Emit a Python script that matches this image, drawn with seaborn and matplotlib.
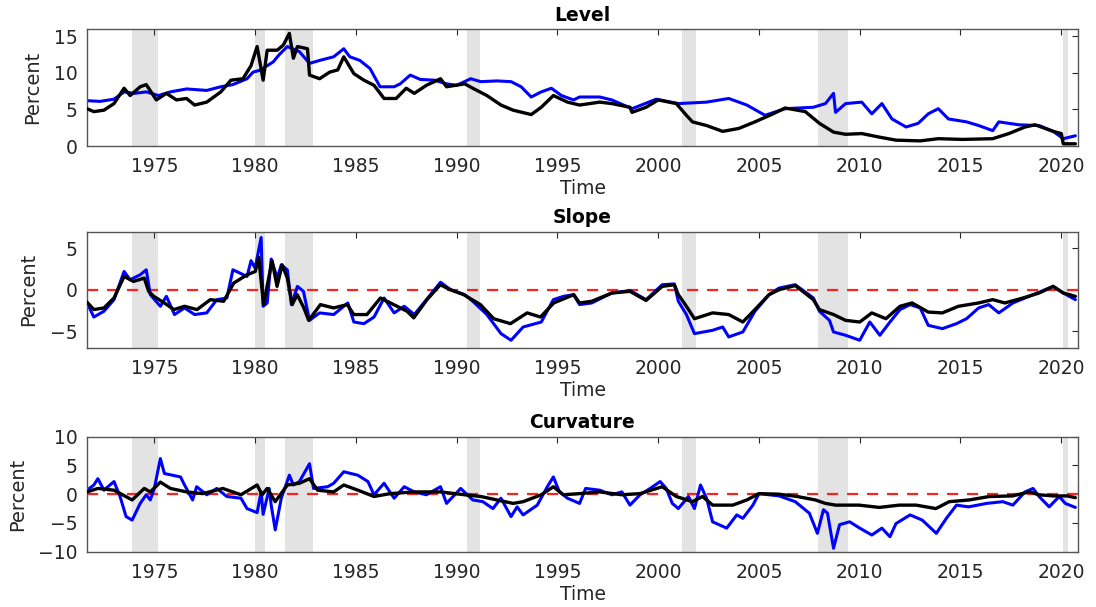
import numpy as np
import pandas as pd
import matplotlib
matplotlib.use("Agg")
import matplotlib.pyplot as plt
import seaborn as sns

# ---------------- data ----------------
level_blue_t = [1971.66, 1972.3, 1973.0, 1973.5, 1974.0, 1974.6, 1975.2, 1975.8, 1976.6, 1977.6, 1978.3, 1978.9,
                1979.6, 1979.9, 1980.3, 1980.5, 1980.9, 1981.2, 1981.6, 1982.2, 1982.7, 1983.2, 1983.9, 1984.4,
                1984.7, 1985.2, 1985.7, 1986.2, 1986.9, 1987.2, 1987.7, 1988.2, 1988.9, 1989.5, 1990.0, 1990.7,
                1991.2, 1992.0, 1992.7, 1993.2, 1993.7, 1994.2, 1994.7, 1995.2, 1995.8, 1996.1, 1997.1, 1997.7,
                1998.7, 1999.9, 2001.0, 2002.4, 2003.5, 2004.4, 2005.3, 2006.3, 2007.7, 2008.3, 2008.7, 2008.8,
                2009.3, 2010.1, 2010.6, 2011.1, 2011.6, 2012.3, 2012.9, 2013.4, 2013.9, 2014.4, 2015.3, 2015.9,
                2016.6, 2016.9, 2017.9, 2018.9, 2019.6, 2020.1, 2020.7]
level_blue = [6.2, 6.1, 6.4, 7.4, 7.2, 7.4, 6.9, 7.4, 7.8, 7.6, 8.1, 8.4,
              9.2, 10.1, 10.4, 10.8, 11.5, 12.5, 13.6, 12.9, 11.3, 11.7, 12.2, 13.3,
              12.2, 11.7, 10.6, 8.1, 8.1, 8.5, 9.7, 9.1, 9.0, 8.5, 8.3, 9.2,
              8.8, 8.9, 8.8, 8.1, 6.7, 7.4, 7.9, 6.9, 6.3, 6.7, 6.7, 6.3,
              5.1, 6.4, 5.8, 6.0, 6.5, 5.6, 4.2, 5.1, 5.3, 5.8, 7.2, 4.6,
              5.8, 6.0, 4.4, 5.8, 3.7, 2.6, 3.1, 4.4, 5.1, 3.7, 3.3, 2.8,
              2.1, 3.3, 2.9, 2.8, 2.0, 1.0, 1.4]

level_black_t = [1971.66, 1972.0, 1972.5, 1973.0, 1973.5, 1973.8, 1974.3, 1974.6, 1975.1, 1975.6, 1976.1, 1976.6,
                 1977.0, 1977.6, 1978.3, 1978.8, 1979.4, 1979.8, 1980.1, 1980.4, 1980.6, 1981.1, 1981.4, 1981.7,
                 1981.9, 1982.1, 1982.6, 1982.7, 1983.2, 1983.7, 1984.1, 1984.4, 1984.9, 1985.4, 1985.9, 1986.4,
                 1987.0, 1987.5, 1987.9, 1988.5, 1989.2, 1989.5, 1990.4, 1990.8, 1991.5, 1992.2, 1992.8, 1993.7,
                 1994.2, 1994.8, 1995.5, 1996.1, 1997.1, 1997.7, 1998.6, 1998.7, 1999.4, 2000.0, 2000.9, 2001.4,
                 2001.7, 2002.4, 2003.2, 2004.0, 2004.8, 2005.7, 2006.3, 2007.3, 2008.0, 2008.7, 2009.3, 2010.1,
                 2011.0, 2011.8, 2013.0, 2013.9, 2015.1, 2016.6, 2017.4, 2018.2, 2018.7, 2019.6, 2020.0, 2020.1,
                 2020.7]
level_black = [5.1, 4.7, 4.9, 5.8, 7.9, 6.9, 8.1, 8.4, 6.3, 7.2, 6.3, 6.5,
               5.6, 6.0, 7.4, 9.0, 9.2, 11.0, 13.6, 9.0, 13.1, 13.1, 13.8, 15.4,
               12.0, 13.6, 13.3, 9.7, 9.2, 10.1, 10.4, 12.2, 9.9, 9.0, 8.3, 6.5,
               6.5, 7.9, 7.2, 8.3, 9.2, 8.1, 8.5, 7.9, 6.9, 5.6, 4.9, 4.3,
               5.3, 6.9, 6.0, 5.6, 6.0, 5.8, 5.3, 4.6, 5.3, 6.3, 5.8, 4.2,
               3.3, 2.8, 2.0, 2.4, 3.3, 4.4, 5.2, 4.7, 3.1, 1.9, 1.6, 1.7,
               1.2, 0.8, 0.7, 1.0, 0.9, 1.0, 1.7, 2.6, 2.9, 2.0, 1.7, 0.3,
               0.3]

slope_blue_t = [1971.66, 1972.0, 1972.5, 1973.0, 1973.5, 1973.8, 1974.3, 1974.6, 1974.8, 1975.3, 1975.6, 1976.0,
                1976.5, 1977.0, 1977.6, 1978.1, 1978.6, 1978.9, 1979.6, 1979.8, 1980.0, 1980.3, 1980.4, 1980.6,
                1980.8, 1981.1, 1981.3, 1981.6, 1981.8, 1982.1, 1982.4, 1982.7, 1983.2, 1983.9, 1984.6, 1984.9,
                1985.4, 1985.9, 1986.4, 1986.9, 1987.4, 1987.9, 1988.5, 1989.2, 1989.7, 1990.4, 1990.8, 1991.5,
                1992.2, 1992.7, 1993.3, 1994.2, 1994.8, 1995.3, 1995.8, 1996.1, 1996.7, 1997.7, 1998.6, 1999.4,
                2000.2, 2000.8, 2001.0, 2001.4, 2001.8, 2002.7, 2003.2, 2003.5, 2004.2, 2004.8, 2005.5, 2006.0,
                2006.8, 2007.7, 2008.0, 2008.5, 2008.7, 2009.3, 2010.0, 2010.5, 2011.0, 2011.5, 2012.0, 2012.5,
                2013.0, 2013.4, 2014.1, 2014.8, 2015.3, 2015.9, 2016.4, 2016.9, 2017.6, 2018.4, 2019.2, 2019.6,
                2020.1, 2020.7]
slope_blue = [-1.6, -3.3, -2.6, -1.2, 2.2, 1.2, 1.8, 2.4, -0.6, -2.0, -0.8, -3.0,
              -2.2, -3.0, -2.8, -1.2, -1.0, 2.4, 1.6, 3.5, 2.6, 6.3, -2.0, -1.6,
              3.7, 1.4, 3.0, 2.4, -1.8, 0.4, -0.2, -3.7, -2.8, -3.0, -1.6, -3.9,
              -4.1, -3.3, -1.0, -2.8, -2.0, -3.0, -1.2, 0.9, 0.0, -0.6, -1.4, -3.0,
              -5.3, -6.1, -4.5, -3.9, -1.2, -0.8, -0.6, -1.8, -1.6, -0.4, -0.1, -1.2,
              0.6, 0.7, -1.4, -3.0, -5.3, -4.9, -4.5, -5.7, -5.1, -2.6, -0.6, 0.2,
              0.6, -1.0, -2.6, -3.7, -5.1, -5.5, -6.1, -3.9, -5.5, -3.9, -2.4, -1.8,
              -2.2, -4.3, -4.7, -4.1, -3.5, -2.2, -1.8, -2.8, -1.6, -0.8, 0.0, 0.4,
              -0.4, -1.2]

slope_black_t = [1971.66, 1972.0, 1972.5, 1973.0, 1973.5, 1973.97, 1974.5, 1974.72, 1974.97, 1975.5, 1975.97, 1976.5,
                 1977.12, 1977.78, 1978.44, 1978.94, 1979.6, 1980.01, 1980.18, 1980.42, 1980.84, 1981.09, 1981.34,
                 1981.6, 1981.84, 1982.09, 1982.42, 1982.66, 1983.24, 1983.9, 1984.57, 1984.9, 1985.55, 1986.22,
                 1986.88, 1987.54, 1987.87, 1988.53, 1989.19, 1989.68, 1990.35, 1991.18, 1991.84, 1992.67, 1993.5,
                 1994.16, 1994.82, 1995.81, 1996.1, 1996.7, 1997.7, 1998.6, 1999.4, 2000.2, 2000.8, 2001.0,
                 2001.4, 2001.8, 2002.7, 2003.5, 2004.2, 2004.8, 2005.5, 2006.0, 2006.8, 2007.7, 2008.0, 2008.7,
                 2009.3, 2010.0, 2010.6, 2011.3, 2012.0, 2012.6, 2013.4, 2014.1, 2014.9, 2015.9, 2016.6, 2017.2,
                 2018.1, 2018.9, 2019.6, 2020.1, 2020.7]
slope_black = [-1.5, -2.4, -2.2, -1.0, 1.6, 1.0, 1.4, -0.2, -0.8, -1.6, -2.4, -2.0,
               -2.4, -1.2, -1.4, 0.8, 1.8, 2.2, 3.9, -1.8, 3.5, 0.4, 3.0,
               1.4, -1.8, -0.6, -2.2, -3.7, -1.8, -2.2, -1.8, -3.0, -3.0, -1.0,
               -1.8, -2.6, -3.4, -1.2, 0.6, 0.0, -0.6, -1.8, -3.5, -4.1, -2.8,
               -3.3, -1.6, -0.6, -1.6, -1.4, -0.4, -0.2, -1.3, 0.4, 0.6, -0.6,
               -2.0, -3.5, -2.8, -3.0, -3.9, -2.4, -0.6, 0.0, 0.5, -1.2, -2.4, -3.0,
               -3.7, -3.9, -2.8, -3.5, -2.0, -1.6, -2.7, -2.8, -2.0, -1.6, -1.2, -1.6,
               -1.0, -0.4, 0.4, -0.4, -0.8]

curv_blue_t = [1971.66, 1972.0, 1972.2, 1972.5, 1973.0, 1973.3, 1973.6, 1973.9, 1974.3, 1974.6, 1974.8, 1975.0,
               1975.3, 1975.5, 1976.3, 1976.5, 1976.9, 1977.1, 1977.6, 1978.1, 1978.6, 1979.3, 1979.6, 1980.1,
               1980.3, 1980.4, 1980.7, 1980.8, 1981.0, 1981.3, 1981.7, 1981.9, 1982.2, 1982.7, 1982.9, 1983.6,
               1983.9, 1984.4, 1985.1, 1985.6, 1985.9, 1986.4, 1986.9, 1987.4, 1987.9, 1988.5, 1989.2, 1989.5,
               1990.2, 1990.8, 1991.3, 1991.8, 1992.2, 1992.7, 1993.0, 1993.3, 1994.0, 1994.5, 1994.8, 1995.1,
               1995.5, 1996.1, 1996.4, 1997.1, 1997.7, 1998.2, 1998.6, 1999.1, 1999.6, 2000.1, 2000.4, 2000.7,
               2001.0, 2001.5, 2001.8, 2002.1, 2002.4, 2002.7, 2003.4, 2003.9, 2004.2, 2004.7, 2005.0, 2006.0,
               2006.8, 2007.5, 2007.9, 2008.2, 2008.4, 2008.7, 2009.0, 2009.5, 2010.0, 2010.6, 2011.1, 2011.5,
               2011.8, 2012.5, 2013.1, 2013.8, 2014.3, 2014.8, 2015.4, 2016.3, 2017.1, 2017.6, 2018.2, 2018.6,
               2018.9, 2019.4, 2019.9, 2020.2, 2020.7]
curv_blue = [0.7, 1.6, 2.7, 0.7, 2.2, -0.4, -3.9, -4.5, -1.6, -0.1, -1.0, 1.0,
             6.2, 3.6, 3.0, 1.6, -1.0, 1.3, -0.1, 1.0, -0.4, -0.7, -2.5, -3.2,
             0.4, -3.5, 1.0, -1.9, -6.2, -0.7, 3.3, 1.6, 2.2, 5.3, 1.0, 1.3,
             1.9, 3.9, 3.3, 2.2, -0.1, 1.9, -0.7, 1.3, 0.4, -0.1, 1.3, -1.6,
             1.0, -1.0, -1.3, -2.5, -0.7, -3.9, -2.2, -3.6, -1.9, 1.3, 3.0, 0.4,
             -0.7, -1.6, 1.0, 0.7, -0.1, 0.4, -1.9, -0.1, 1.0, 2.2, 1.0, -1.6,
             -2.5, -0.4, -2.5, 1.6, -0.7, -4.8, -5.9, -3.6, -4.2, -1.9, 0.1, -0.3,
             -1.3, -3.3, -6.8, -2.7, -3.3, -9.4, -5.3, -4.8, -5.9, -7.1, -5.9, -7.4,
             -5.1, -3.6, -4.5, -6.8, -4.2, -1.9, -2.2, -1.6, -1.3, -1.9, 0.4, 1.0,
             -0.4, -2.2, -0.4, -1.6, -2.3]

curv_black_t = [1971.66, 1972.2, 1973.0, 1973.9, 1974.5, 1974.8, 1975.3, 1975.8, 1976.6, 1977.4, 1978.4, 1979.3,
                1980.1, 1980.35, 1980.6, 1981.0, 1981.6, 1982.2, 1982.7, 1983.1, 1983.9, 1984.4, 1985.1, 1985.9,
                1986.7, 1987.9, 1989.2, 1990.4, 1991.2, 1992.0, 1992.8, 1993.3, 1994.2, 1994.8, 1995.3, 1996.1,
                1997.1, 1998.2, 1999.1, 2000.2, 2000.9, 2001.7, 2002.2, 2002.7, 2003.7, 2004.4, 2005.0, 2006.0,
                2006.9, 2007.8, 2008.3, 2008.8, 2009.96, 2010.97, 2011.96, 2012.8, 2013.78, 2014.44, 2015.43,
                2016.43, 2017.58, 2018.41, 2018.9, 2019.6, 2020.3, 2020.7]
curv_black = [0.4, 1.0, 0.7, -1.0, 1.0, 0.4, 2.1, 1.0, 0.4, 0.1, 1.0, -0.1,
              1.6, -0.1, 1.0, -1.3, 1.6, 1.9, 2.7, 0.7, 0.4, 1.6, 0.7, -0.4,
              0.1, 0.4, 0.4, -0.1, -0.4, -1.0, -1.6, -1.3, -0.1, 1.3, -0.1, 0.1,
              0.4, -0.1, 0.1, 1.3, -0.4, -1.3, -0.4, -1.9, -1.9, -1.0, 0.1, 0.0,
              -0.4, -1.0, -1.6, -1.9, -1.9, -2.3, -1.9, -1.9, -2.5, -1.3, -1.0,
              -0.4, -0.3, 0.4, -0.1, -0.3, -0.3, -0.6]

recessions = [(1973.87, 1975.17), (1980.0, 1980.5), (1981.5, 1982.87), (1990.5, 1991.17),
              (2001.17, 2001.87), (2007.92, 2009.42), (2020.08, 2020.33)]

panel_titles = ["Level", "Slope", "Curvature"]
panel_yticks = [[0, 5, 10, 15], [-5, 0, 5], [-10, -5, 0, 5, 10]]
panel_ylims = [(0, 16), (-7, 7), (-10, 10)]
xticks = [1975, 1980, 1985, 1990, 1995, 2000, 2005, 2010, 2015, 2020]

# ---------------- style ----------------
sns.set_theme(style="white")
plt.rcParams['font.family'] = ['DejaVu Sans']
txt = '#262626'
plt.rcParams.update({
    'axes.edgecolor': '#555555', 'axes.linewidth': 1.0,
    'xtick.color': txt, 'ytick.color': txt, 'text.color': txt, 'axes.labelcolor': txt,
})

fig = plt.figure(figsize=(10.96, 6.07), dpi=100)
left, width = 87 / 1096, 991 / 1096
boxes = [(29, 146), (231.7, 347.7), (436.7, 551.7)]

series = [
    (level_blue_t, level_blue, level_black_t, level_black),
    (slope_blue_t, slope_blue, slope_black_t, slope_black),
    (curv_blue_t, curv_blue, curv_black_t, curv_black),
]

for i, (top, bot) in enumerate(boxes):
    ax = fig.add_axes([left, 1 - bot / 607, width, (bot - top) / 607])
    for a, b in recessions:
        ax.axvspan(a, b, color='#e3e3e3', lw=0, zorder=0)
    if i > 0:
        ax.axhline(0, color='#ff2020', ls=(0, (5, 4)), lw=1.6, zorder=1)
    bt, bv, kt, kv = series[i]
    dfb = pd.DataFrame({'t': bt, 'v': bv})
    dfk = pd.DataFrame({'t': kt, 'v': kv})
    sns.lineplot(data=dfb, x='t', y='v', ax=ax, color='#0000ff', lw=2.2, estimator=None, sort=False, zorder=2)
    sns.lineplot(data=dfk, x='t', y='v', ax=ax, color='black', lw=2.4, estimator=None, sort=False, zorder=3)
    ax.set_xlim(1971.66, 2020.83)
    ax.set_ylim(*panel_ylims[i])
    ax.set_xticks(xticks)
    ax.set_yticks(panel_yticks[i])
    ax.tick_params(axis='both', which='both', direction='in', length=4, width=0.8,
                   top=True, right=True, labelsize=13.5)
    ax.tick_params(axis='x', pad=8)
    ax.tick_params(axis='y', pad=7)
    ax.set_title(panel_titles[i], fontsize=13.5, fontweight='bold', color='black', pad=6)
    ax.set_xlabel('Time', fontsize=13.5, labelpad=2)
    ax.set_ylabel('Percent', fontsize=14, labelpad=8)
    for s in ax.spines.values():
        s.set_visible(True)

fig.savefig('out.png', dpi=100)
